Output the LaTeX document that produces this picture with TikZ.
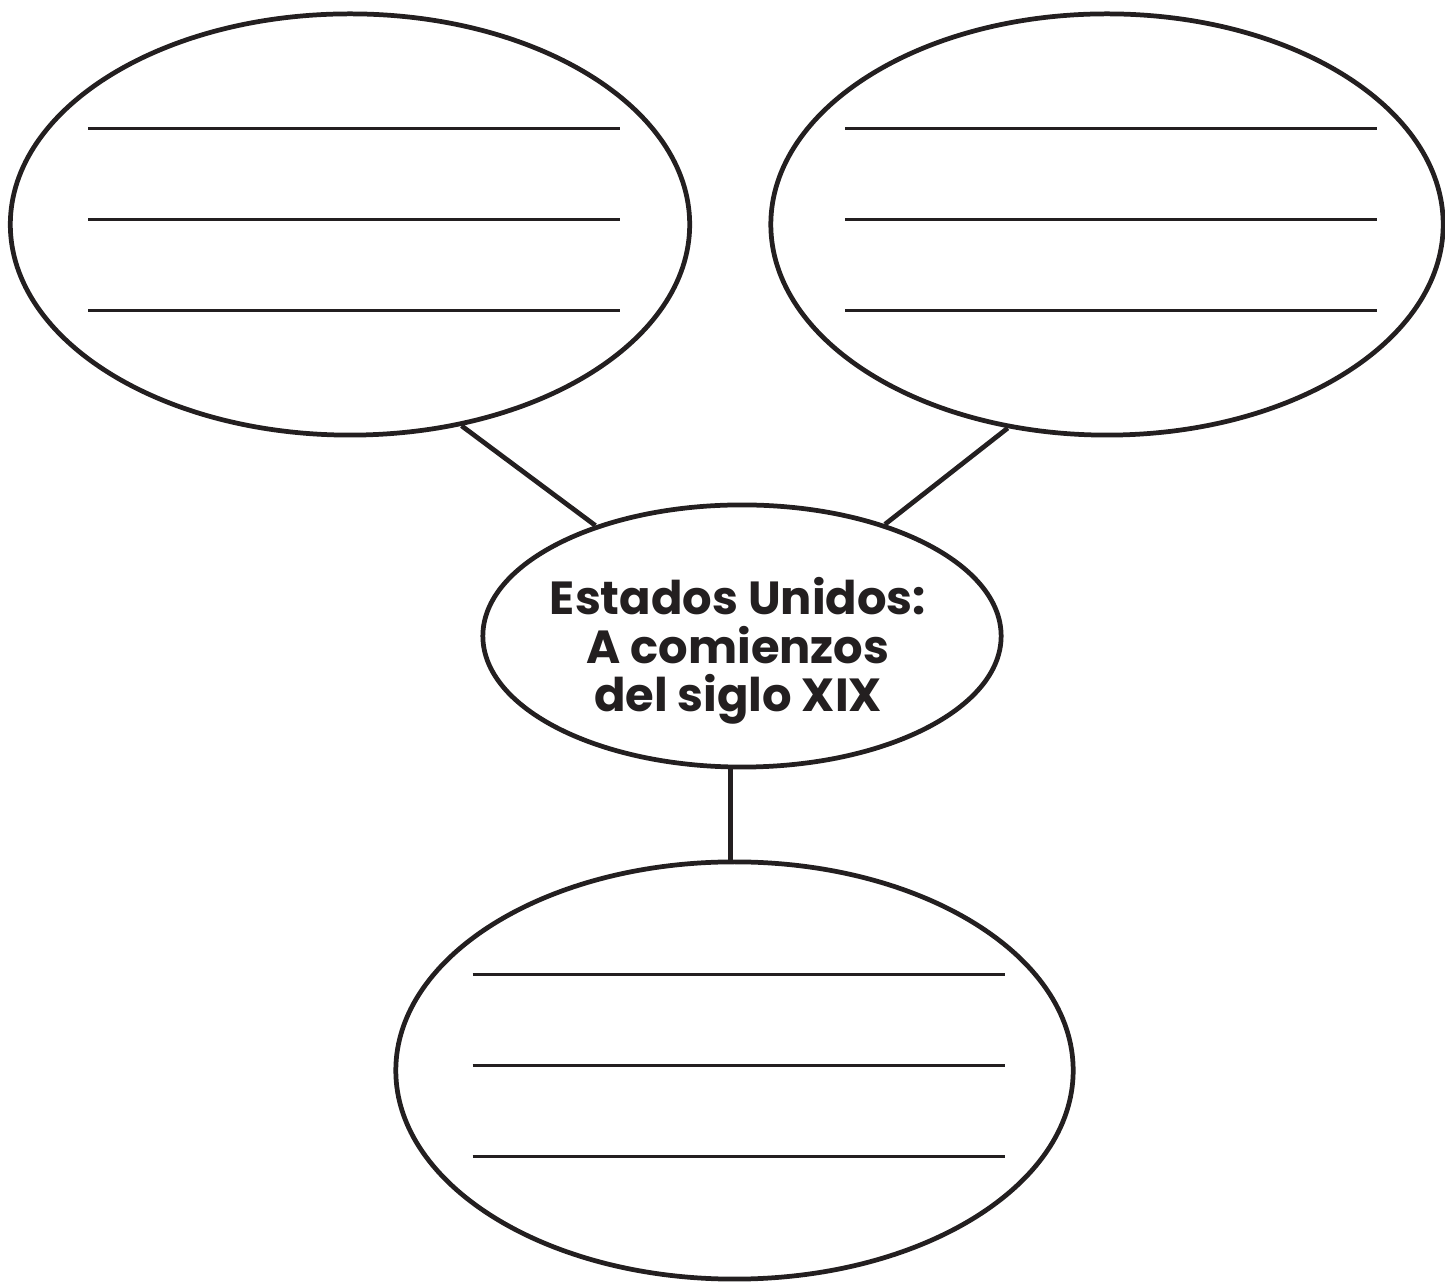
\documentclass[tikz,border=0pt]{standalone}
\usepackage{fontspec}
\newfontfamily\titlefont{Poppins}
\usetikzlibrary{shapes.geometric}
\definecolor{ink}{HTML}{231F20}
\tikzset{
    bubble/.style={ellipse, draw=ink, line width=1.35pt, inner sep=0pt}, % 椭圆框的样式
    rule line/.style={draw=ink, line width=0.65pt}, % 椭圆内横线的样式
    link/.style={draw=ink, line width=1.35pt} % 连线的样式
}

\begin{document}
\begin{tikzpicture}[x=0.01cm, y=-0.01cm]
    \useasboundingbox (0,0) rectangle (1445,1283);

    \node[bubble, minimum width=6.79cm, minimum height=4.21cm] (izq) at (350,224.5) {};
    \node[bubble, minimum width=6.72cm, minimum height=4.21cm] (der) at (1107,224.5) {};
    \node[bubble, minimum width=5.18cm, minimum height=2.62cm] (ctr) at (742,636) {};
    \node[bubble, minimum width=6.77cm, minimum height=4.17cm] (abj) at (734.5,1070.5) {};

    \node[font={\titlefont\bfseries\fontsize{13.2pt}{13.8pt}\selectfont}, align=center, text=ink] (ttl) at (738,651) {Estados Unidos:\\A comienzos\\del siglo XIX};

    \foreach \n in {izq,der,abj} {\foreach \dy in {-96,-5,86} {\draw[rule line] ([shift={(-262,\dy)}]\n.center) -- ([shift={(270,\dy)}]\n.center);}}

    \draw[link] (izq.-61) -- (ctr.143);
    \draw[link] (der.244) -- (ctr.38);
    \draw[link] (ctr.265) -- (ctr.265 |- abj.north);
\end{tikzpicture}
\end{document}
